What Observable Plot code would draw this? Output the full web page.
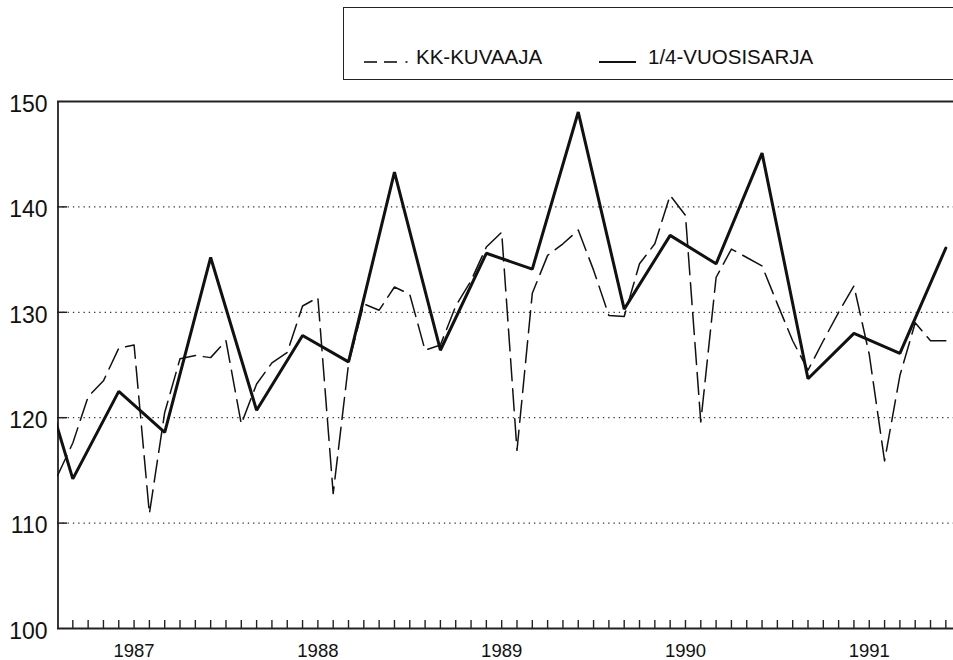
<!DOCTYPE html>
<html>
<head>
<meta charset="utf-8">
<script src="https://cdn.jsdelivr.net/npm/d3@7"></script>
<script src="https://cdn.jsdelivr.net/npm/@observablehq/plot@0.6"></script>
<style>
  html, body { margin: 0; padding: 0; background: #fff; overflow: hidden; }
  #wrap { position: relative; width: 953px; height: 660px; overflow: hidden; font-family: "Liberation Sans", Arial, Helvetica, sans-serif; color: #111; }
  #legend { position: absolute; left: 343px; top: 7px; width: 700px; height: 73px; border: 1.6px solid #222; box-sizing: border-box; }
  #legend span { position: absolute; font-size: 20.5px; white-space: nowrap; line-height: 1; }
  #legend svg { position: absolute; }
</style>
</head>
<body>
<div id="wrap"></div>
<script>
// Monthly series "KK-KUVAAJA", from August 1986 to June 1991
const kkStart = [1986, 8];
const kkValues = [
  114.5, 117.6, 122.0, 123.5, 126.6,                                      // 1986 Aug-Dec
  126.9, 110.9, 120.5, 125.6, 125.9, 125.7, 127.3, 119.4, 123.2, 125.2, 126.2, 130.6, // 1987
  131.4, 112.8, 125.1, 130.8, 130.2, 132.4, 131.7, 126.4, 126.9, 130.6, 133.0, 136.2, // 1988
  137.6, 116.9, 131.8, 135.4, 136.5, 137.8, 134.0, 129.7, 129.6, 134.6, 136.5, 141.1, // 1989
  139.2, 119.6, 133.3, 136.0, 135.2, 134.4, 130.8, 127.3, 124.5, 127.3, 130.0, 132.5, // 1990
  126.0, 115.9, 124.0, 129.0, 127.3, 127.3                                // 1991 Jan-Jun
];
// Quarterly series "1/4-VUOSISARJA", plotted at the last month of each quarter, from June 1986
const qStart = [1986, 6];
const qValues = [
  128.7, 114.2, 122.5,
  118.6, 135.2, 120.7, 127.8,
  125.3, 143.3, 126.4, 135.6,
  134.1, 149.0, 130.3, 137.3,
  134.6, 145.1, 123.7, 128.0,
  126.1, 136.1
];
const yTicks = [100, 110, 120, 130, 140, 150];
const gridValues = [110, 120, 130, 140];
const yearLabels = [1987, 1988, 1989, 1990, 1991];
const xDomainMonths = [-5, 53.5];   // Aug 1986 .. mid June 1991 (months from Jan 1987)

const monthIndex = (y, m) => (y - 1987) * 12 + (m - 1);
const kkData = kkValues.map((v, i) => ({m: monthIndex(...kkStart) + i, v}));
const qData = qValues.map((v, i) => ({m: monthIndex(...qStart) + 3 * i, v}));
const monthTicks = d3.range(Math.ceil(xDomainMonths[0]) + 1, Math.floor(xDomainMonths[1]) + 1);
const yearPos = yearLabels.map(y => monthIndex(y, 1));

const plotTop = 101, plotBottom = 628, H = 660;
const chart = Plot.plot({
  width: 953,
  height: H,
  marginLeft: 57,
  marginRight: 0,
  marginTop: plotTop,
  marginBottom: H - plotBottom,
  x: {domain: xDomainMonths},
  y: {domain: [100, 150]},
  style: {fontFamily: '"Liberation Sans", Arial, Helvetica, sans-serif', color: "#111", background: "transparent", overflow: "visible"},
  marks: [
    Plot.ruleY(gridValues, {stroke: "#333", strokeWidth: 1.3, strokeDasharray: "1.3,4"}),
    Plot.ruleY(gridValues, {stroke: "#222", strokeWidth: 1.5, strokeDasharray: "10,3000"}),
    Plot.ruleX(monthTicks, {stroke: "#222", strokeWidth: 1.4, insetTop: plotBottom - plotTop - 8}),
    Plot.ruleY([100], {stroke: "#222", strokeWidth: 1.8}),
    Plot.ruleY([150], {stroke: "#222", strokeWidth: 1.8}),
    Plot.ruleX([xDomainMonths[0]], {stroke: "#222", strokeWidth: 1.8, dx: 0.5}),
    Plot.line(kkData, {x: "m", y: "v", stroke: "#111", strokeWidth: 1.5, strokeDasharray: "22,8", clip: true}),
    Plot.line(qData, {x: "m", y: "v", stroke: "#111", strokeWidth: 3, strokeLinejoin: "miter", clip: true}),
    Plot.axisY(yTicks, {tickSize: 0, tickPadding: 10, fontSize: 23, dy: 3, label: null}),
    Plot.axisX(yearPos, {tickSize: 0, tickPadding: 15, fontSize: 18.5, tickFormat: d => String(1987 + d / 12), label: null})
  ]
});
const wrap = document.getElementById("wrap");
wrap.appendChild(chart);

// Legend (above the plot area)
const legend = document.createElement("div");
legend.id = "legend";
legend.innerHTML = `
  <svg style="left:${363-343}px; top:${61-7-5}px" width="50" height="10">
    <line x1="0" y1="5" x2="13" y2="5" stroke="#111" stroke-width="1.6"/>
    <line x1="20" y1="5" x2="33" y2="5" stroke="#111" stroke-width="1.6"/>
    <line x1="41.5" y1="5" x2="43.5" y2="5" stroke="#111" stroke-width="1.6"/>
  </svg>
  <span style="left:${415-343}px; top:${61-7-15.5}px">KK-KUVAAJA</span>
  <svg style="left:${598-343}px; top:${61-7-5}px" width="40" height="10">
    <line x1="0" y1="5" x2="37" y2="5" stroke="#111" stroke-width="1.8"/>
  </svg>
  <span style="left:${647-343}px; top:${61-7-15.5}px">1/4-VUOSISARJA</span>
`;
wrap.appendChild(legend);
</script>
</body>
</html>
